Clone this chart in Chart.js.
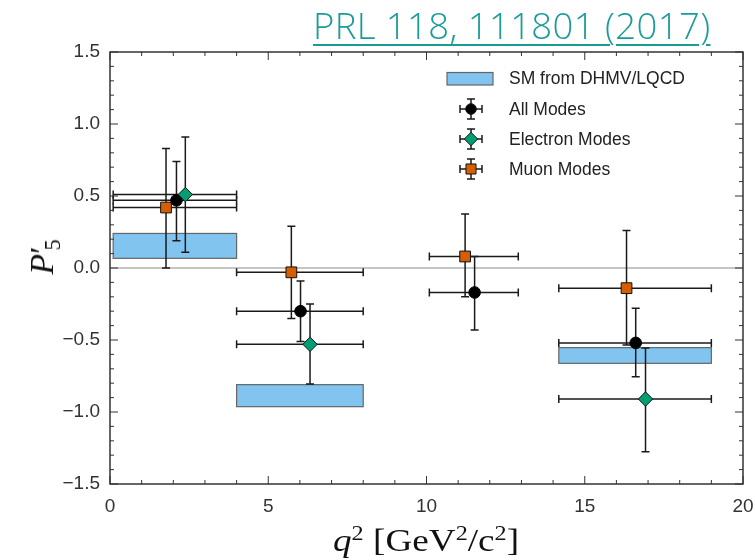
<!DOCTYPE html>
<html>
<head>
<meta charset="utf-8">
<script src="https://cdn.jsdelivr.net/npm/chart.js@4.4.0/dist/chart.umd.min.js"></script>
<style>
  body { margin: 0; background: #fff; }
  #wrap { position: relative; width: 755px; height: 560px; }
  #ref {
    position: absolute; left: 313px; top: 0px;
    font-family: "Open Sans", sans-serif; font-weight: 300; font-size: 36.5px;
    color: #1a9c99; text-decoration: underline; text-decoration-thickness: 2px;
    text-underline-offset: 5px; white-space: nowrap; letter-spacing: 0.4px;
  }
  .math { position: absolute; font-family: "Liberation Serif", serif; color: #111; white-space: nowrap; }
  #xtitle { left: 333px; top: 523px; font-size: 31px; transform: scaleX(1.2); transform-origin: left center; }
  #ytitle { left: 42px; top: 257px; font-size: 34px; transform: translate(-50%, -50%) rotate(-90deg); }
  sup { font-size: 0.65em; vertical-align: 0.55em; line-height: 0; }
  sub { font-size: 0.65em; vertical-align: -0.3em; line-height: 0; }
</style>
</head>
<body>
<div id="wrap">
  <canvas id="chart" width="755" height="560"></canvas>
  <div id="ref">PRL 118, 111801 (2017)</div>
  <div id="xtitle" class="math"><i>q</i><sup>2</sup> [GeV<sup>2</sup>/c<sup>2</sup>]</div>
  <div id="ytitle" class="math"><i>P</i>&#8242;<sub style="margin-left:-4px">5</sub></div>
</div>
<script>
// q^2 bins
var binLo = [0.1, 4.0, 10.09, 14.18];
var binHi = [4.0, 8.0, 12.9, 19.0];

// SM prediction (DHMV / LQCD)
var smXLo = [0.1, 4.0, 14.18];
var smXHi = [4.0, 8.0, 19.0];
var smLo = [0.067, -0.963, -0.662];
var smHi = [0.24, -0.81, -0.553];

// all modes
var allX = [2.1, 6.02, 11.52, 16.61];
var allY = [0.47, -0.30, -0.17, -0.52];
var allLo = [0.19, -0.51, -0.43, -0.755];
var allHi = [0.74, -0.09, 0.08, -0.28];

// electron modes (no point in the third bin)
var elX = [2.38, 6.32, 16.92];
var elXLo = [0.1, 4.0, 14.18];
var elXHi = [4.0, 8.0, 19.0];
var elY = [0.51, -0.53, -0.91];
var elLo = [0.11, -0.805, -1.276];
var elHi = [0.91, -0.25, -0.556];

// muon modes
var muX = [1.77, 5.73, 11.22, 16.32];
var muY = [0.42, -0.03, 0.08, -0.14];
var muLo = [0.0, -0.35, -0.20, -0.535];
var muHi = [0.83, 0.29, 0.375, 0.26];

var yTicks = [-1.5, -1.0, -0.5, 0.0, 0.5, 1.0, 1.5];
var xTicks = [0, 5, 10, 15, 20];

function pts(xs, ys, xlo, xhi, ylo, yhi) {
  return xs.map(function (x, i) {
    return { x: x, y: ys[i], xMin: xlo[i], xMax: xhi[i], yMin: ylo[i], yMax: yhi[i] };
  });
}

var allPts = pts(allX, allY, binLo, binHi, allLo, allHi);
var elPts = pts(elX, elY, elXLo, elXHi, elLo, elHi);
var muPts = pts(muX, muY, binLo, binHi, muLo, muHi);

var AXIS = '#333';

function drawBar(ctx, x1, y1, x2, y2, cap, vertical) {
  ctx.beginPath();
  ctx.moveTo(x1, y1); ctx.lineTo(x2, y2);
  if (vertical) {
    ctx.moveTo(x1 - cap, y1); ctx.lineTo(x1 + cap, y1);
    ctx.moveTo(x2 - cap, y2); ctx.lineTo(x2 + cap, y2);
  } else {
    ctx.moveTo(x1, y1 - cap); ctx.lineTo(x1, y1 + cap);
    ctx.moveTo(x2, y2 - cap); ctx.lineTo(x2, y2 + cap);
  }
  ctx.stroke();
}

var physPlugin = {
  id: 'phys',
  beforeDatasetsDraw: function (chart) {
    var ctx = chart.ctx, xs = chart.scales.x, ys = chart.scales.y, a = chart.chartArea;
    ctx.save();
    // zero line
    ctx.strokeStyle = '#8c8c8c';
    ctx.lineWidth = 1.2;
    ctx.beginPath();
    ctx.moveTo(a.left, ys.getPixelForValue(0));
    ctx.lineTo(a.right, ys.getPixelForValue(0));
    ctx.stroke();
    // SM boxes
    ctx.fillStyle = '#80c4ef';
    ctx.strokeStyle = '#666';
    ctx.lineWidth = 1.2;
    for (var i = 0; i < smLo.length; i++) {
      var x1 = xs.getPixelForValue(smXLo[i]), x2 = xs.getPixelForValue(smXHi[i]);
      var y1 = ys.getPixelForValue(smHi[i]), y2 = ys.getPixelForValue(smLo[i]);
      ctx.fillRect(x1, y1, x2 - x1, y2 - y1);
      ctx.strokeRect(x1, y1, x2 - x1, y2 - y1);
    }
    // error bars
    ctx.strokeStyle = '#1a1a1a';
    ctx.lineWidth = 1.5;
    [muPts, allPts, elPts].forEach(function (set) {
      set.forEach(function (p) {
        var px = xs.getPixelForValue(p.x), py = ys.getPixelForValue(p.y);
        drawBar(ctx, xs.getPixelForValue(p.xMin), py, xs.getPixelForValue(p.xMax), py, 4, false);
        drawBar(ctx, px, ys.getPixelForValue(p.yMax), px, ys.getPixelForValue(p.yMin), 4, true);
      });
    });
    ctx.restore();
  },
  afterDraw: function (chart) {
    var ctx = chart.ctx, xs = chart.scales.x, ys = chart.scales.y, a = chart.chartArea;
    ctx.save();
    ctx.strokeStyle = AXIS;
    ctx.lineWidth = 1.5;
    ctx.strokeRect(a.left, a.top, a.right - a.left, a.bottom - a.top);
    ctx.lineWidth = 1;
    ctx.beginPath();
    var v, p, len;
    for (v = -15; v <= 15; v++) {
      p = ys.getPixelForValue(v / 10);
      len = (v % 5 === 0) ? 8 : 4;
      ctx.moveTo(a.left, p); ctx.lineTo(a.left + len, p);
      ctx.moveTo(a.right, p); ctx.lineTo(a.right - len, p);
    }
    for (v = 0; v <= 20; v++) {
      p = xs.getPixelForValue(v);
      len = (v % 5 === 0) ? 8 : 4;
      ctx.moveTo(p, a.bottom); ctx.lineTo(p, a.bottom - len);
      ctx.moveTo(p, a.top); ctx.lineTo(p, a.top + len);
    }
    ctx.stroke();

    // legend
    var lx = 471, tx = 509;
    var rows = [78.5, 109, 139, 169];
    ctx.fillStyle = '#80c4ef';
    ctx.strokeStyle = '#666';
    ctx.lineWidth = 1.2;
    ctx.fillRect(447, 72.5, 46, 12.5);
    ctx.strokeRect(447, 72.5, 46, 12.5);
    ctx.strokeStyle = '#1a1a1a';
    ctx.lineWidth = 1.5;
    for (var k = 0; k < 3; k++) {
      var y = rows[k + 1];
      drawBar(ctx, lx - 11, y, lx + 11, y, 4, false);
      drawBar(ctx, lx, y - 10, lx, y + 10, 4, true);
      var ds = chart.data.datasets[k];
      ctx.fillStyle = ds.backgroundColor;
      ctx.strokeStyle = '#111';
      ctx.lineWidth = 1;
      Chart.helpers.drawPoint(ctx, { pointStyle: ds.pointStyle, radius: ds.pointRadius - 0.5, borderWidth: 1 }, lx, y);
      ctx.strokeStyle = '#1a1a1a';
      ctx.lineWidth = 1.5;
    }
    ctx.fillStyle = '#222';
    ctx.font = '17.5px "Liberation Sans", Arial, sans-serif';
    ctx.textBaseline = 'middle';
    ctx.textAlign = 'left';
    var labels = ['SM from DHMV/LQCD'].concat(chart.data.datasets.map(function (d) { return d.label; }));
    labels.forEach(function (t, i) { ctx.fillText(t, tx, rows[i] + 1); });
    ctx.restore();
  }
};

var ctx = document.getElementById('chart').getContext('2d');

var data = {
  datasets: [
    {
      label: 'All Modes',
      data: allPts,
      pointStyle: 'circle',
      pointRadius: 5.8,
      backgroundColor: '#000',
      borderColor: '#000',
      borderWidth: 1,
      order: 2
    },
    {
      label: 'Electron Modes',
      data: elPts,
      pointStyle: 'rectRot',
      pointRadius: 7.2,
      backgroundColor: '#009e73',
      borderColor: '#111',
      borderWidth: 1,
      order: 1
    },
    {
      label: 'Muon Modes',
      data: muPts,
      pointStyle: 'rect',
      pointRadius: 7.6,
      backgroundColor: '#d55e00',
      borderColor: '#111',
      borderWidth: 1,
      order: 3
    }
  ]
};

var options = {
  responsive: false,
  animation: false,
  layout: { padding: { top: 52, right: 12, left: 0, bottom: 0 } },
  plugins: { legend: { display: false }, tooltip: { enabled: false } },
  scales: {
    x: {
      type: 'linear', min: 0, max: 20,
      grid: { display: false, drawTicks: false },
      border: { display: false },
      afterFit: function (s) { s.height = 76; s.paddingLeft = 0; s.paddingRight = 0; },
      afterBuildTicks: function (s) { s.ticks = xTicks.map(function (v) { return { value: v }; }); },
      ticks: {
        padding: 11, color: '#333',
        font: { family: '"Liberation Sans", Arial, sans-serif', size: 19 },
        callback: function (v) { return String(v); }
      }
    },
    y: {
      type: 'linear', min: -1.5, max: 1.5,
      grid: { display: false, drawTicks: false },
      border: { display: false },
      afterFit: function (s) { s.width = 110; s.paddingTop = 0; s.paddingBottom = 0; },
      afterBuildTicks: function (s) { s.ticks = yTicks.map(function (v) { return { value: v }; }); },
      ticks: {
        padding: 10, color: '#333',
        font: { family: '"Liberation Sans", Arial, sans-serif', size: 19 },
        callback: function (v) { return v.toFixed(1).replace('-', '\u2212'); }
      }
    }
  }
};

var myChart = new Chart(ctx, {
  type: 'scatter',
  data: data,
  options: options,
  plugins: [physPlugin]
});
</script>
</body>
</html>
